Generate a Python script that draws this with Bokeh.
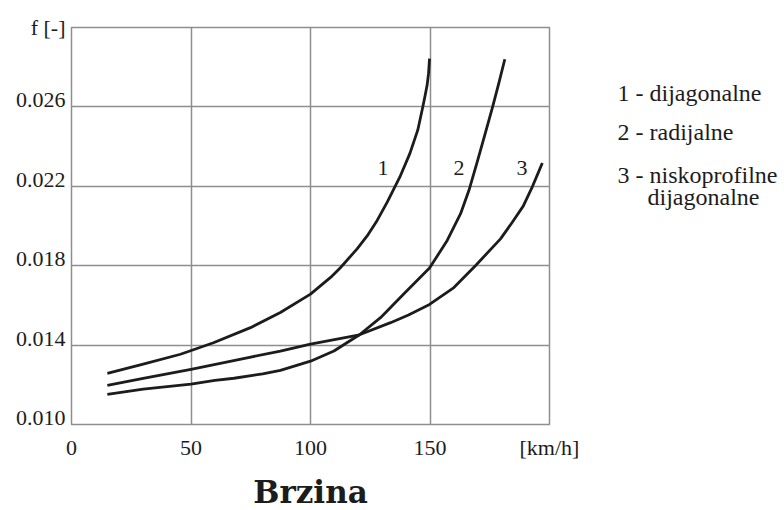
from bokeh.plotting import figure
from bokeh.models import FixedTicker, Range1d, ColumnDataSource, PrintfTickFormatter
from bokeh.layouts import row
from bokeh.core.properties import value
from bokeh.embed import file_html
from bokeh.resources import INLINE

# ---- data ----
x_ticks = [0, 50, 100, 150, 200]
x_tick_labels = ["0", "50", "100", "150", "[km/h]"]
y_ticks = [0.010, 0.014, 0.018, 0.022, 0.026]
y_tick_labels = ["0.010", "0.014", "0.018", "0.022", "0.026"]
y_name_pos = 0.030
y_name = "f [-]"

c1_x = [15, 30, 45.6, 59.4, 74.9, 87.4, 100, 108.4, 112.6, 119.5, 123.7, 127.9, 132.1, 137.4, 141.6, 144.9, 147.0, 148.0, 148.8, 149.4, 149.8]
c1_y = [0.01258, 0.01304, 0.01354, 0.01412, 0.01488, 0.01564, 0.01657, 0.01741, 0.01791, 0.01885, 0.01950, 0.02028, 0.0212, 0.02247, 0.02366, 0.02484, 0.02601, 0.0266, 0.0271, 0.0277, 0.02843]

c2_x = [15, 30, 50, 60, 68, 80, 87.4, 100, 109.8, 120.5, 129.3, 139.0, 149.8, 157.2, 162.8, 166.3, 169.7, 172.5, 176.2, 178.8, 181.3]
c2_y = [0.01152, 0.01178, 0.01203, 0.01222, 0.01233, 0.01255, 0.01273, 0.01319, 0.0137, 0.01452, 0.01538, 0.01657, 0.01788, 0.01927, 0.02062, 0.0218, 0.0232, 0.0244, 0.0260, 0.0272, 0.0284]

c3_x = [15, 30, 50, 75, 87.4, 100, 110, 120.5, 133.5, 141, 149.8, 160, 169, 179.5, 184.5, 189, 192.9, 195, 197]
c3_y = [0.01197, 0.01232, 0.01278, 0.01340, 0.0137, 0.01405, 0.01428, 0.01452, 0.01513, 0.01552, 0.01605, 0.0169, 0.0180, 0.01935, 0.0202, 0.0210, 0.0220, 0.0226, 0.02317]

curve_ids = ["1", "2", "3"]
curve_label_x = [128, 159.8, 186.2]
curve_label_y = [0.0229, 0.0229, 0.0229]

legend_lines = ["1 - dijagonalne", "2 - radijalne", "3 - niskoprofilne", "dijagonalne"]
legend_y = [0.02670, 0.024735, 0.022569, 0.021461]

SERIF = "Liberation Serif"
GRID = "#8e8e8e"
INK = "#1c1c1c"
LABEL_LIFT = 0.00035   # tick labels sit on their grid line (baseline at the line)

p = figure(width=590, height=510, frame_width=478, frame_height=397,
           x_range=Range1d(0, 200), y_range=Range1d(0.010, 0.030),
           output_backend="svg", toolbar_location=None,
           min_border_left=71, min_border_right=41, min_border_top=27, min_border_bottom=86)
p.title.visible = False
p.background_fill_color = "white"
p.border_fill_color = "white"
p.outline_line_color = GRID
p.outline_line_width = 1.5

# grids
p.xgrid.ticker = FixedTicker(ticks=[50, 100, 150])
p.ygrid.ticker = FixedTicker(ticks=[0.014, 0.018, 0.022, 0.026])
for g in (p.xgrid, p.ygrid):
    g.grid_line_color = GRID
    g.grid_line_width = 1.5

# axes
p.xaxis.ticker = FixedTicker(ticks=x_ticks)
p.xaxis.major_label_overrides = {t: s for t, s in zip(x_ticks, x_tick_labels)}
y_label_pos = [t + LABEL_LIFT for t in y_ticks] + [y_name_pos]
y_label_txt = y_tick_labels + [y_name]
p.yaxis.ticker = FixedTicker(ticks=y_label_pos)
p.yaxis.formatter = PrintfTickFormatter(format="%.3f")
p.yaxis.major_label_overrides = {t: s for t, s in zip(y_label_pos, y_label_txt)}
for ax in (p.xaxis, p.yaxis):
    ax.axis_line_color = None
    ax.major_tick_line_color = None
    ax.minor_tick_line_color = None
    ax.major_label_text_font = SERIF
    ax.major_label_text_font_size = "22px"
    ax.major_label_text_color = INK
p.xaxis.major_label_standoff = 4
p.yaxis.major_label_standoff = 0
p.xaxis.axis_label = "Brzina"
p.xaxis.axis_label_text_font = "DejaVu Serif"
p.xaxis.axis_label_text_font_style = "bold"
p.xaxis.axis_label_text_font_size = "31px"
p.xaxis.axis_label_text_color = INK
p.xaxis.axis_label_standoff = 11

# curves
for xs, ys in ((c1_x, c1_y), (c2_x, c2_y), (c3_x, c3_y)):
    p.line(xs, ys, line_color=INK, line_width=2.8, line_join="round", line_cap="butt")

src = ColumnDataSource(dict(x=curve_label_x, y=curve_label_y, t=curve_ids))
p.text(x="x", y="y", text="t", source=src, text_font=value(SERIF), text_font_size="22px",
       text_color=INK, text_baseline="middle", text_align="left")

# legend panel on the right (same vertical scale as the chart)
q = figure(width=194, height=510, frame_width=194, frame_height=397,
           x_range=Range1d(0, 194), y_range=Range1d(0.010, 0.030),
           x_axis_type=None, y_axis_type=None,
           output_backend="svg", toolbar_location=None,
           min_border_left=0, min_border_right=0, min_border_top=27, min_border_bottom=86)
q.title.visible = False
q.outline_line_color = None
q.background_fill_color = "white"
q.border_fill_color = "white"
q.grid.visible = False
leg_src = ColumnDataSource(dict(x=[27, 27, 27, 57], y=legend_y, t=legend_lines))
q.text(x="x", y="y", text="t", source=leg_src, text_font=value(SERIF), text_font_size="24px",
       text_color=INK, text_baseline="middle", text_align="left")

layout = row(p, q)
open("out.html", "w").write(file_html(layout, INLINE))
